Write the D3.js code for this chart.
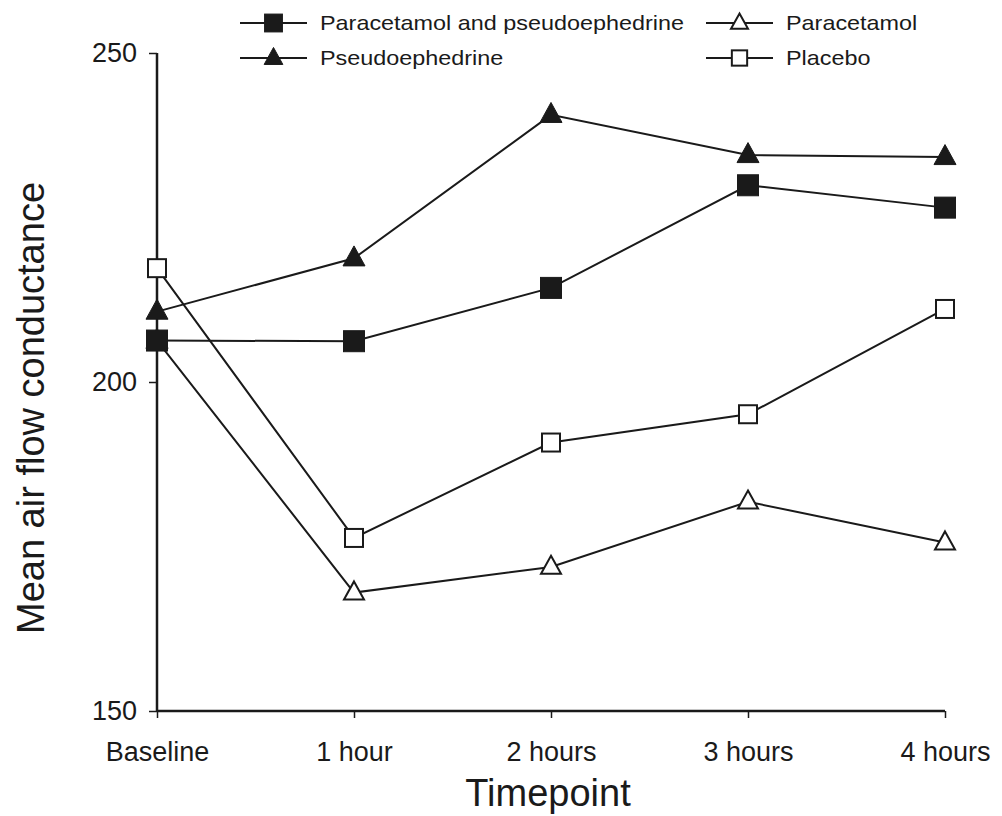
<!DOCTYPE html>
<html><head><meta charset="utf-8">
<script src="https://cdn.jsdelivr.net/npm/d3@7"></script>
<style>body{margin:0;background:#fff}svg{display:block;font-family:"Liberation Sans",Arial,Helvetica,sans-serif}</style>
</head><body>
<script>
const timepoints = ["Baseline","1 hour","2 hours","3 hours","4 hours"];
const parPseudo = [206.3, 206.2, 214.3, 229.9, 226.5];
const pseudo = [210.7, 218.8, 240.6, 234.5, 234.2];
const paracetamol = [206.3, 168.0, 171.9, 181.8, 175.6];
const placebo = [217.3, 176.3, 190.8, 195.1, 211.1];
const yTicks = [150, 200, 250];
const seriesNames = ["Paracetamol and pseudoephedrine","Pseudoephedrine","Paracetamol","Placebo"];

const W = 1002, H = 816;
const ink = "#1a1a1a";
const svg = d3.select("body").append("svg").attr("width", W).attr("height", H);
const x = d3.scalePoint().domain(timepoints).range([157, 945]);
const y = d3.scaleLinear().domain([150, 250]).range([711, 53]);

const series = [
  {name: seriesNames[2], values: paracetamol, shape: "triangle", fill: "#fff"},
  {name: seriesNames[3], values: placebo, shape: "square", fill: "#fff"},
  {name: seriesNames[1], values: pseudo, shape: "triangle", fill: ink},
  {name: seriesNames[0], values: parPseudo, shape: "square", fill: ink}
];

// axes
const yAxis = svg.append("g").attr("transform", "translate(157,0)")
  .call(d3.axisLeft(y).tickValues(yTicks).tickSize(8).tickPadding(12));
const xAxis = svg.append("g").attr("transform", "translate(0,711)")
  .call(d3.axisBottom(x).tickSize(7).tickPadding(0));
[yAxis, xAxis].forEach(g => {
  g.select(".domain").attr("stroke", ink).attr("stroke-width", 2.5);
  g.selectAll(".tick line").attr("stroke", ink).attr("stroke-width", 1.5);
  g.selectAll(".tick text").attr("fill", ink).attr("font-size", 27);
});
xAxis.selectAll(".tick text").attr("y", 50).attr("dy", null);
yAxis.select(".domain").attr("d", "M0,53V711");
xAxis.select(".domain").attr("d", "M157,0H945");

svg.append("text").attr("x", 548).attr("y", 806).attr("text-anchor", "middle")
  .attr("font-size", 38).attr("fill", ink).text("Timepoint");
svg.append("text").attr("transform", "translate(44,408) rotate(-90)").attr("text-anchor", "middle")
  .attr("font-size", 38).attr("fill", ink).text("Mean air flow conductance");

const line = d3.line().x((d, i) => x(timepoints[i])).y(d => y(d));

function marker(g, shape, fill, scale) {
  const k = scale || 1;
  const open = fill === "#fff";
  if (shape === "square") {
    const sz = (open ? 18 : 21) * k;
    g.append("rect").attr("x", -sz/2).attr("y", -sz/2).attr("width", sz).attr("height", sz)
      .attr("fill", fill).attr("stroke", ink).attr("stroke-width", open ? 2 : 1);
  } else {
    const w = (open ? 20 : 22) * k, h = (open ? 18 : 20) * k;
    g.append("path").attr("d", `M0,${-h*0.62}L${w/2},${h*0.38}L${-w/2},${h*0.38}Z`)
      .attr("fill", fill).attr("stroke", ink).attr("stroke-width", open ? 2 : 1);
  }
}

series.forEach(s => {
  svg.append("path").datum(s.values).attr("d", line).attr("fill", "none")
    .attr("stroke", ink).attr("stroke-width", 2);
});
series.forEach(s => {
  s.values.forEach((v, i) => {
    const g = svg.append("g").attr("transform", `translate(${x(timepoints[i])},${y(v)})`);
    marker(g, s.shape, s.fill);
  });
});

// legend
const legendItems = [
  {name: seriesNames[0], shape: "square", fill: ink, lx: 240, ly: 23},
  {name: seriesNames[2], shape: "triangle", fill: "#fff", lx: 706, ly: 23},
  {name: seriesNames[1], shape: "triangle", fill: ink, lx: 240, ly: 58},
  {name: seriesNames[3], shape: "square", fill: "#fff", lx: 706, ly: 58}
];
legendItems.forEach(it => {
  const g = svg.append("g").attr("transform", `translate(${it.lx},${it.ly})`);
  g.append("line").attr("x1", 0).attr("x2", 67).attr("stroke", ink).attr("stroke-width", 2);
  const m = g.append("g").attr("transform", "translate(33.5,0)");
  marker(m, it.shape, it.fill, 0.85);
  g.append("text").attr("transform", "translate(80,0) scale(1.17,1)").attr("dy", "0.36em")
    .attr("font-size", 20).attr("fill", ink).text(it.name);
});
</script>
</body></html>
